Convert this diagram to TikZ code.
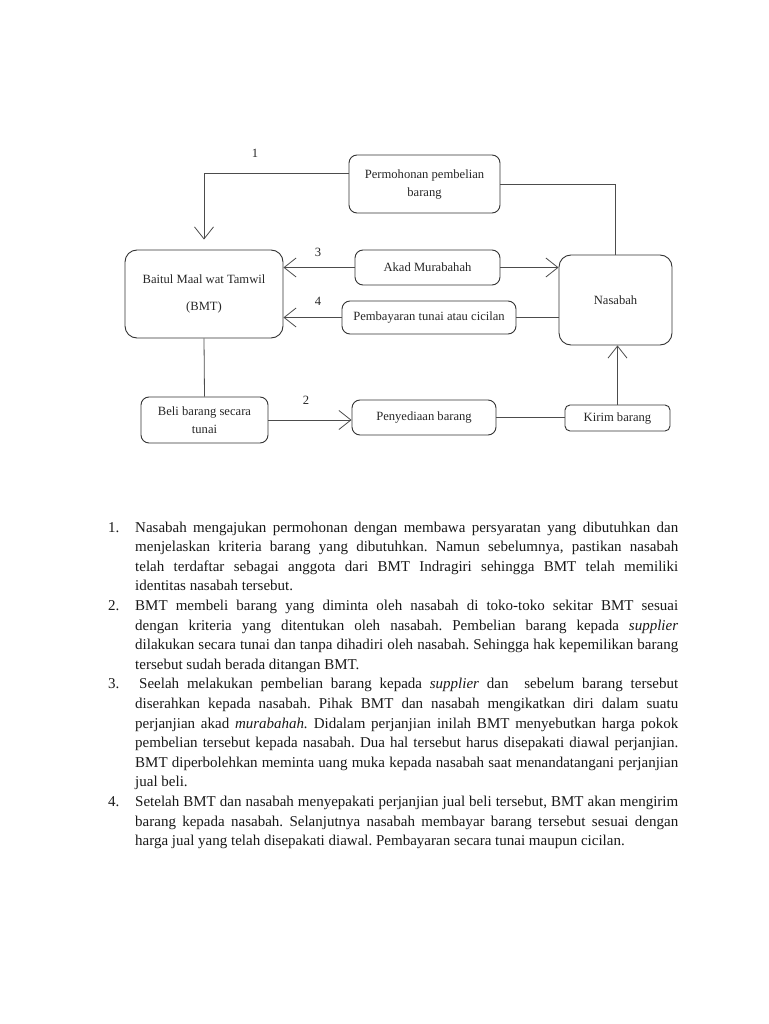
\documentclass[tikz,border=0pt]{standalone}
\usepackage{fontspec}
\setmainfont{Liberation Serif}
\usetikzlibrary{arrows.meta,positioning}
\hyphenpenalty=10000
\tolerance=10000

\begin{document}
\begin{tikzpicture}[x=1pt,y=-1pt,
  box/.style={draw=black!80,line width=0.9pt,rounded corners=8pt,align=center,inner sep=2pt,
    font=\fontsize{12.6}{18}\selectfont,text=black!85},
  flow/.style={draw=black!70,line width=0.8pt},
  arr/.style={flow,-{Straight Barb[length=12pt,width=19pt,line width=0.8pt]}},
  num/.style={font=\fontsize{12.6}{15}\selectfont,text=black!85},
  listno/.style={anchor=base west,inner sep=0pt,font=\fontsize{15}{19.6}\selectfont,text=black!90},
  item/.style={anchor=base west,inner sep=0pt,text width=543pt,align=justify,
    font=\fontsize{15}{19.6}\selectfont\frenchspacing,text=black!90}]

  \useasboundingbox (0,0) rectangle (768,1024);

  % boxes of the scheme
  \node[box,minimum width=151pt,minimum height=58pt] (perm) at (424.5,184) {Permohonan pembelian\\barang};
  \node[box,minimum width=158pt,minimum height=88pt,rounded corners=12pt] (bmt) at (204,294) {Baitul Maal wat Tamwil\\[9pt](BMT)};
  \node[box,minimum width=145pt,minimum height=35pt] (akad) at (427.5,267.5) {Akad Murabahah};
  \node[box,minimum width=174pt,minimum height=33pt] (bayar) at (429,317.5) {Pembayaran tunai atau cicilan};
  \node[box,minimum width=113pt,minimum height=90pt,rounded corners=12pt] (nasabah) at (615.5,300) {Nasabah};
  \node[box,minimum width=127pt,minimum height=46pt] (beli) at (204.5,420) {Beli barang secara\\tunai};
  \node[box,minimum width=144pt,minimum height=35pt] (sedia) at (424,417.5) {Penyediaan barang};
  \node[box,minimum width=105pt,minimum height=26pt,rounded corners=5pt] (kirim) at (617.5,418) {Kirim barang};

  % steps
  \node[num] (lblone) at (255,153) {1};
  \node[num] (lblthree) at (318,252) {3};
  \node[num] (lblfour) at (318,301) {4};
  \node[num] (lbltwo) at (306,400) {2};

  \draw[arr,shorten >=10pt] (perm.172) -| (bmt.north);
  \draw[flow] (perm.east) -| (nasabah.north);
  \draw[arr] (akad.west) -- (akad.west -| bmt.east);
  \draw[arr] (akad.east) -- (akad.east -| nasabah.west);
  \draw[flow] (nasabah.west |- bayar.east) -- (bayar.east);
  \draw[arr] (bayar.west) -- (bayar.west -| bmt.east);
  \draw[flow] (bmt.south) -- (beli.north);
  \draw[arr] (beli.east) -- (beli.east -| sedia.west);
  \draw[flow] (sedia.east) -- (sedia.east -| kirim.west);
  \draw[arr] (kirim.north) -- (kirim.north |- nasabah.south);

  % explanation below
  \node[listno] (noone) at (108,532) {1.};
  \node[item] (itemone) at (135,532) {Nasabah mengajukan permohonan dengan membawa persyaratan yang dibutuhkan dan\linebreak
    menjelaskan kriteria barang yang dibutuhkan. Namun sebelumnya, pastikan nasabah\linebreak
    telah terdaftar sebagai anggota dari BMT Indragiri sehingga BMT telah memiliki\linebreak
    identitas nasabah tersebut.};
  \node[listno] (notwo) at (108,610.4) {2.};
  \node[item] (itemtwo) at (135,610.4) {BMT membeli barang yang diminta oleh nasabah di toko-toko sekitar BMT sesuai\linebreak
    dengan kriteria yang ditentukan oleh nasabah. Pembelian barang kepada \textit{supplier}\linebreak
    dilakukan secara tunai dan tanpa dihadiri oleh nasabah. Sehingga hak kepemilikan barang\linebreak
    tersebut sudah berada ditangan BMT.};
  \node[listno] (nothree) at (108,688.8) {3.};
  \node[item] (itemthree) at (135,688.8) {\hspace{4pt}Seelah melakukan pembelian barang kepada \textit{supplier} dan\ \ sebelum barang tersebut\linebreak
    diserahkan kepada nasabah. Pihak BMT dan nasabah mengikatkan diri dalam suatu\linebreak
    perjanjian akad \textit{murabahah.} Didalam perjanjian inilah BMT menyebutkan harga pokok\linebreak
    pembelian tersebut kepada nasabah. Dua hal tersebut harus disepakati diawal perjanjian.\linebreak
    BMT diperbolehkan meminta uang muka kepada nasabah saat menandatangani perjanjian\linebreak
    jual beli.};
  \node[listno] (nofour) at (108,806.4) {4.};
  \node[item] (itemfour) at (135,806.4) {Setelah BMT dan nasabah menyepakati perjanjian jual beli tersebut, BMT akan mengirim\linebreak
    barang kepada nasabah. Selanjutnya nasabah membayar barang tersebut sesuai dengan\linebreak
    harga jual yang telah disepakati diawal. Pembayaran secara tunai maupun cicilan.};
\end{tikzpicture}
\end{document}
